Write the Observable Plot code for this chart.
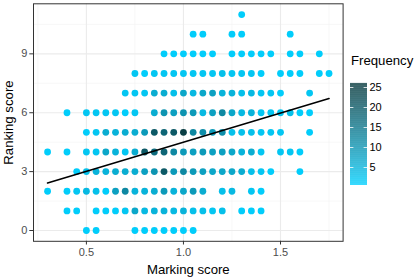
<!DOCTYPE html>
<html>
<head>
<meta charset="utf-8">
<script src="https://cdn.jsdelivr.net/npm/d3@7"></script>
<script src="https://cdn.jsdelivr.net/npm/@observablehq/plot@0.6"></script>
<style>
  html, body { margin: 0; padding: 0; background: #fff; }
  #wrap { position: relative; width: 415px; height: 277px; font-family: "Liberation Sans", Arial, sans-serif; }
  #wrap > svg, #wrap > div { position: absolute; }
  #legendTitle { left: 351px; top: 54px; font-size: 13.2px; line-height: 1; color: #000; }
</style>
</head>
<body>
<div id="wrap"></div>
<script>
// Ranking score rows (y) with the marking scores (x) present and their frequencies
const rankingScores = [0, 1, 2, 3, 4, 5, 6, 7, 8, 9, 10, 11];
const markingByRank = [
  [0.5, 0.55, 0.75, 0.8, 0.85, 0.9, 0.95, 1.0, 1.05],
  [0.4, 0.45, 0.55, 0.6, 0.65, 0.7, 0.75, 0.8, 0.85, 0.9, 0.95, 1.0, 1.05, 1.1, 1.15, 1.2, 1.3, 1.35, 1.4],
  [0.3, 0.4, 0.45, 0.5, 0.55, 0.6, 0.65, 0.7, 0.75, 0.8, 0.85, 0.9, 0.95, 1.0, 1.05, 1.1, 1.2, 1.25, 1.35, 1.4],
  [0.45, 0.5, 0.55, 0.6, 0.65, 0.7, 0.75, 0.8, 0.85, 0.9, 0.95, 1.0, 1.05, 1.1, 1.15, 1.2, 1.25, 1.3, 1.35, 1.4, 1.45, 1.6],
  [0.3, 0.4, 0.5, 0.55, 0.6, 0.65, 0.7, 0.75, 0.8, 0.85, 0.9, 0.95, 1.0, 1.05, 1.1, 1.15, 1.2, 1.25, 1.3, 1.35, 1.4, 1.5, 1.55, 1.6],
  [0.5, 0.55, 0.6, 0.65, 0.7, 0.75, 0.8, 0.85, 0.9, 0.95, 1.0, 1.05, 1.1, 1.15, 1.2, 1.25, 1.3, 1.35, 1.4, 1.45, 1.5, 1.65],
  [0.4, 0.5, 0.55, 0.6, 0.65, 0.7, 0.75, 0.85, 0.9, 0.95, 1.0, 1.05, 1.1, 1.15, 1.2, 1.25, 1.3, 1.35, 1.4, 1.45, 1.5, 1.55, 1.6, 1.65],
  [0.7, 0.75, 0.8, 0.85, 0.9, 0.95, 1.0, 1.05, 1.1, 1.15, 1.2, 1.25, 1.3, 1.35, 1.4, 1.45, 1.5, 1.65],
  [0.75, 0.8, 0.85, 0.9, 0.95, 1.0, 1.05, 1.1, 1.15, 1.2, 1.25, 1.3, 1.35, 1.4, 1.5, 1.55, 1.6, 1.7, 1.75],
  [0.9, 0.95, 1.0, 1.05, 1.1, 1.15, 1.25, 1.3, 1.35, 1.4, 1.45, 1.55, 1.6, 1.7],
  [1.05, 1.1, 1.25, 1.3, 1.55],
  [1.3]
];
const freqByRank = [
  [1, 1, 1, 1, 1, 1, 1, 1, 1],
  [1, 1, 1, 1, 1, 2, 7, 4, 5, 5, 4, 5, 3, 3, 2, 3, 1, 1, 1],
  [1, 1, 2, 4, 3, 1, 8, 12, 5, 5, 6, 9, 5, 7, 9, 6, 3, 4, 2, 1],
  [1, 3, 5, 5, 6, 6, 6, 8, 10, 20, 9, 12, 9, 8, 7, 7, 7, 6, 3, 2, 1, 1],
  [1, 1, 2, 2, 7, 5, 2, 6, 20, 17, 18, 12, 9, 8, 9, 8, 8, 7, 5, 6, 2, 2, 2, 1],
  [1, 2, 6, 5, 6, 6, 9, 20, 18, 20, 25, 12, 11, 9, 11, 3, 3, 3, 2, 2, 2, 1],
  [1, 2, 2, 2, 2, 1, 2, 6, 10, 8, 10, 9, 4, 8, 12, 7, 4, 5, 2, 2, 2, 3, 1, 1],
  [2, 2, 2, 6, 6, 3, 7, 4, 7, 8, 5, 5, 3, 4, 2, 2, 1, 2],
  [2, 1, 2, 2, 2, 2, 2, 2, 2, 3, 2, 2, 2, 1, 1, 1, 1, 1, 1],
  [1, 1, 1, 1, 1, 1, 1, 1, 1, 1, 1, 1, 1, 1],
  [1, 1, 1, 1, 1],
  [1]
];
// Fitted regression line
const fitMarking = [0.3, 1.75];
const fitRanking = [2.42, 6.72];

const xTicks = [0.5, 1.0, 1.5];
const yTicks = [0, 3, 6, 9];
const xMinor = [0.25, 0.75, 1.25, 1.75];
const yMinor = [1.5, 4.5, 7.5, 10.5];
const legendTicks = [5, 10, 15, 20, 25];

const points = [];
rankingScores.forEach((r, i) => markingByRank[i].forEach((m, j) =>
  points.push({marking: m, ranking: r, frequency: freqByRank[i][j]})));
const fit = fitMarking.map((m, i) => ({marking: m, ranking: fitRanking[i]}));

const colorScale = {type: "linear", domain: [0.5, 26], range: ["#00D0FF", "#08393D"], interpolate: "lab", clamp: true};
const font = "Liberation Sans, Arial, sans-serif";

const chart = Plot.plot({
  width: 415, height: 277,
  marginLeft: 33, marginRight: 72.4, marginTop: 3.3, marginBottom: 36.2,
  style: {fontFamily: font, background: "transparent", overflow: "visible"},
  x: {domain: [0.2275, 1.8225]},
  y: {domain: [-0.55, 11.55]},
  color: colorScale,
  marks: [
    Plot.gridX(xMinor, {stroke: "#F2F2F2", strokeOpacity: 1, strokeWidth: 0.6}),
    Plot.gridY(yMinor, {stroke: "#F2F2F2", strokeOpacity: 1, strokeWidth: 0.6}),
    Plot.gridX(xTicks, {stroke: "#EBEBEB", strokeOpacity: 1, strokeWidth: 1.1}),
    Plot.gridY(yTicks, {stroke: "#EBEBEB", strokeOpacity: 1, strokeWidth: 1.1}),
    Plot.dot(points, {x: "marking", y: "ranking", fill: "frequency", r: 3.4}),
    Plot.line(fit, {x: "marking", y: "ranking", stroke: "black", strokeWidth: 1.6}),
    Plot.frame({stroke: "#333333", strokeWidth: 1}),
    Plot.axisX(xTicks, {tickSize: 3.7, tickPadding: 3, stroke: "#333333", fill: "#4D4D4D", fontSize: 11, tickFormat: d3.format(".1f"),
      label: "Marking score", labelAnchor: "center", labelArrow: "none", labelOffset: 33}),
    Plot.axisY(yTicks, {tickSize: 3.7, tickPadding: 2.5, stroke: "#333333", fill: "#4D4D4D", fontSize: 11,
      label: "Ranking score", labelAnchor: "center", labelArrow: "none", labelOffset: 30})
  ]
});
chart.style.left = "0px"; chart.style.top = "0px";
chart.querySelectorAll("[aria-label='x-axis label'], [aria-label='y-axis label']").forEach(g => {
  g.setAttribute("font-size", "13.2"); g.setAttribute("fill", "#000");
});

const ramp = d3.range(0.5, 26, 0.1);
const legend = Plot.plot({
  width: 70, height: 277,
  marginLeft: 5, marginRight: 48, marginTop: 83, marginBottom: 92,
  style: {fontFamily: font, background: "transparent", overflow: "visible"},
  x: {domain: [0, 1], axis: null},
  y: {domain: [0.5, 26]},
  color: colorScale,
  marks: [
    Plot.rect(ramp, {x1: 0, x2: 1, y1: d => d, y2: d => d + 0.12, fill: d => d}),
    Plot.ruleY(legendTicks, {x1: 0, x2: 0.2, stroke: "white", strokeWidth: 0.8}),
    Plot.ruleY(legendTicks, {x1: 0.8, x2: 1, stroke: "white", strokeWidth: 0.8}),
    Plot.axisY(legendTicks, {anchor: "right", tickSize: 0, tickPadding: 2, fill: "#000", fontSize: 11, label: null})
  ]
});
legend.style.left = "345px"; legend.style.top = "0px";

const wrap = document.getElementById("wrap");
wrap.appendChild(chart);
wrap.appendChild(legend);
const title = document.createElement("div");
title.id = "legendTitle";
title.textContent = "Frequency";
wrap.appendChild(title);
</script>
</body>
</html>
